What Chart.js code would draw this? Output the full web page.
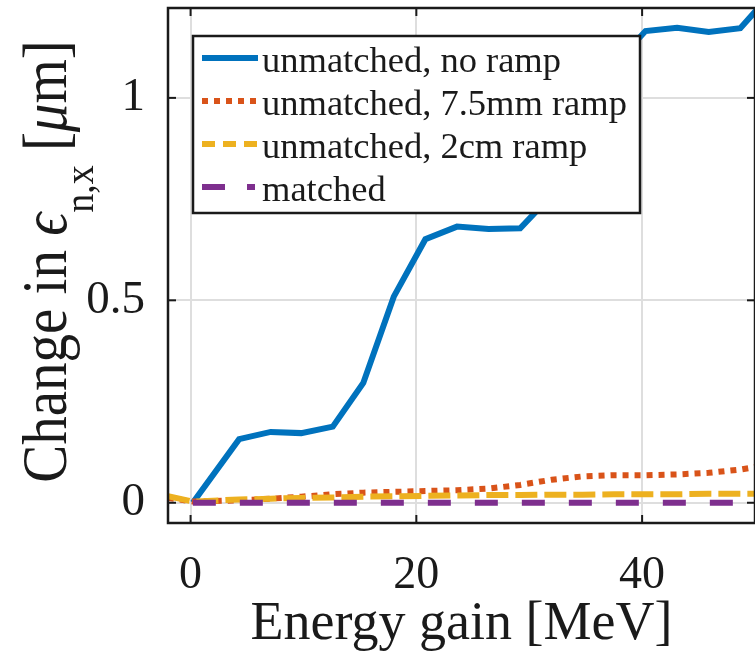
<!DOCTYPE html>
<html><head><meta charset="utf-8">
<script src="https://cdn.jsdelivr.net/npm/chart.js@4/dist/chart.umd.min.js"></script>
<style>html,body{margin:0;padding:0;background:#fff;overflow:hidden}#wrap{width:755px;height:657px;position:relative}</style>
</head><body><div id="wrap"><canvas id="c" width="755" height="657"></canvas></div>
<script>
// ---- data ----
const energyGain = [-2, 0.2, 4.3, 7.1, 9.8, 12.6, 15.3, 18.0, 20.8, 23.6, 26.4, 29.2, 32.0, 34.7, 37.5, 40.3, 43.1, 45.9, 48.7, 51.5];
const unmatchedNoRamp = [null, 0.000, 0.157, 0.175, 0.172, 0.188, 0.296, 0.509, 0.651, 0.682, 0.676, 0.678, 0.760, 0.910, 1.080, 1.165, 1.173, 1.163, 1.172, 1.260];
const unmatched75mm = [0.012, 0.003, 0.006, 0.010, 0.015, 0.021, 0.025, 0.027, 0.029, 0.031, 0.035, 0.044, 0.057, 0.065, 0.068, 0.068, 0.070, 0.074, 0.082, 0.095];
const unmatched2cm = [0.016, 0.003, 0.008, 0.010, 0.012, 0.013, 0.015, 0.016, 0.017, 0.018, 0.019, 0.019, 0.020, 0.020, 0.021, 0.021, 0.021, 0.022, 0.022, 0.022];
const matched = [null, 0, 0, 0, 0, 0, 0, 0, 0, 0, 0, 0, 0, 0, 0, 0, 0, 0, 0, 0];
const seriesLabels = ['unmatched, no ramp', 'unmatched, 7.5mm ramp', 'unmatched, 2cm ramp', 'matched'];
const xTicks = [0, 20, 40];
const xTickLabels = ['0', '20', '40'];
const yTicks = [0, 0.5, 1];
const yTickLabels = ['0', '0.5', '1'];
const xTitle = 'Energy gain [MeV]';
const yTitleParts = [
  {t: 'Change in ', style: ''},
  {t: '\u03F5', style: 'italic '},
  {t: 'n,x', style: '', sub: true},
  {t: ' [', style: ''},
  {t: '\u03BC', style: 'italic '},
  {t: 'm]', style: ''}
];

// ---- styles ----
const FONT = "'Liberation Serif', 'Times New Roman', serif";
const INK = '#1a1a1a';
const toPts = arr => energyGain.map((x, i) => ({x: x, y: arr[i]}));

const datasets = [
  {label: seriesLabels[0], data: toPts(unmatchedNoRamp), borderColor: '#0072BD', borderWidth: 6, borderDash: [], legendDash: [], order: 3},
  {label: seriesLabels[1], data: toPts(unmatched75mm), borderColor: '#D95319', borderWidth: 6, borderDash: [6, 6], legendDash: [6, 6], order: 2},
  {label: seriesLabels[2], data: toPts(unmatched2cm), borderColor: '#EDB120', borderWidth: 6, borderDash: [22, 7], legendDash: [13, 8], order: 1},
  {label: seriesLabels[3], data: toPts(matched), borderColor: '#7E2F8E', borderWidth: 6, borderDash: [23, 24], legendDash: [23, 22, 8, 30], order: 0}
].map(d => Object.assign(d, {pointRadius: 0, tension: 0, fill: false, borderCapStyle: 'butt', spanGaps: false}));

const framePlugin = {
  id: 'frame',
  afterDatasetsDraw(chart) {
    const {ctx, chartArea: a, scales: {x, y}} = chart;
    ctx.save();
    // inward ticks
    ctx.strokeStyle = INK; ctx.lineWidth = 2; ctx.setLineDash([]);
    const tl = 8;
    xTicks.forEach(v => {
      const px = x.getPixelForValue(v);
      ctx.beginPath(); ctx.moveTo(px, a.bottom); ctx.lineTo(px, a.bottom - tl); ctx.stroke();
      ctx.beginPath(); ctx.moveTo(px, a.top); ctx.lineTo(px, a.top + tl); ctx.stroke();
    });
    yTicks.forEach(v => {
      const py = y.getPixelForValue(v);
      ctx.beginPath(); ctx.moveTo(a.left, py); ctx.lineTo(a.left + tl, py); ctx.stroke();
      ctx.beginPath(); ctx.moveTo(a.right, py); ctx.lineTo(a.right - tl, py); ctx.stroke();
    });
    // box
    ctx.lineWidth = 2.5;
    ctx.strokeRect(a.left, a.top, a.right - a.left, a.bottom - a.top);
    // legend
    const L = {left: 193, top: 36, right: 640, bottom: 213};
    ctx.fillStyle = '#fff';
    ctx.fillRect(L.left, L.top, L.right - L.left, L.bottom - L.top);
    ctx.strokeStyle = INK; ctx.lineWidth = 2.5;
    ctx.strokeRect(L.left, L.top, L.right - L.left, L.bottom - L.top);
    ctx.font = '36.5px ' + FONT;
    ctx.textBaseline = 'alphabetic'; ctx.textAlign = 'left';
    chart.data.datasets.forEach((d, i) => {
      const cy = L.top + 22 + i * 43;
      ctx.strokeStyle = d.borderColor; ctx.lineWidth = d.borderWidth;
      ctx.lineCap = 'butt';
      ctx.setLineDash(d.legendDash);
      ctx.beginPath(); ctx.moveTo(202, cy); ctx.lineTo(258, cy); ctx.stroke();
      ctx.setLineDash([]);
      ctx.fillStyle = INK;
      ctx.fillText(d.label, 262, cy + 14);
    });
    // y title with subscript (rotated)
    const size = 57, subSize = 38;
    const cx = 66, cyc = (a.top + a.bottom) / 2 - 4;
    ctx.translate(cx, cyc);
    ctx.rotate(-Math.PI / 2);
    ctx.scale(1, 1.12);
    let total = 0;
    const widths = yTitleParts.map(p => {
      ctx.font = p.style + (p.sub ? subSize : size) + 'px ' + FONT;
      const w = ctx.measureText(p.t).width; total += w; return w;
    });
    let xx = -total / 2;
    ctx.fillStyle = INK;
    yTitleParts.forEach((p, i) => {
      ctx.font = p.style + (p.sub ? subSize : size) + 'px ' + FONT;
      ctx.fillText(p.t, xx, p.sub ? 24 : 0);
      xx += widths[i];
    });
    ctx.restore();
  }
};

new Chart(document.getElementById('c'), {
  type: 'line',
  data: {datasets: datasets},
  options: {
    responsive: false, animation: false, devicePixelRatio: 1,
    layout: {padding: {left: 0, top: 8, right: -3, bottom: 0}},
    plugins: {legend: {display: false}, tooltip: {enabled: false}},
    scales: {
      x: {
        type: 'linear', min: -2, max: 50,
        afterBuildTicks: s => { s.ticks = xTicks.map(v => ({value: v})); },
        afterFit: s => { s.height = 134; s.paddingLeft = 0; s.paddingRight = 0; s.paddingTop = 0; s.paddingBottom = 0; },
        grid: {color: '#dedede', lineWidth: 2, drawTicks: false},
        border: {display: false},
        ticks: {font: {family: FONT, size: 46}, color: INK, padding: 25, maxRotation: 0, autoSkip: false,
                callback: (v, i) => xTickLabels[i]},
        title: {display: true, text: xTitle, font: {family: FONT, size: 54}, color: INK, padding: {top: 0, bottom: 0}}
      },
      y: {
        type: 'linear', min: -0.05, max: 1.222,
        afterBuildTicks: s => { s.ticks = yTicks.map(v => ({value: v})); },
        afterFit: s => { s.width = 168; s.paddingLeft = 0; s.paddingRight = 0; s.paddingTop = 0; s.paddingBottom = 0; },
        grid: {color: '#dedede', lineWidth: 2, drawTicks: false},
        border: {display: false},
        ticks: {font: {family: FONT, size: 47}, color: INK, padding: 23, autoSkip: false,
                callback: (v, i) => yTickLabels[i]}
      }
    }
  },
  plugins: [framePlugin]
});
</script>
</body></html>
